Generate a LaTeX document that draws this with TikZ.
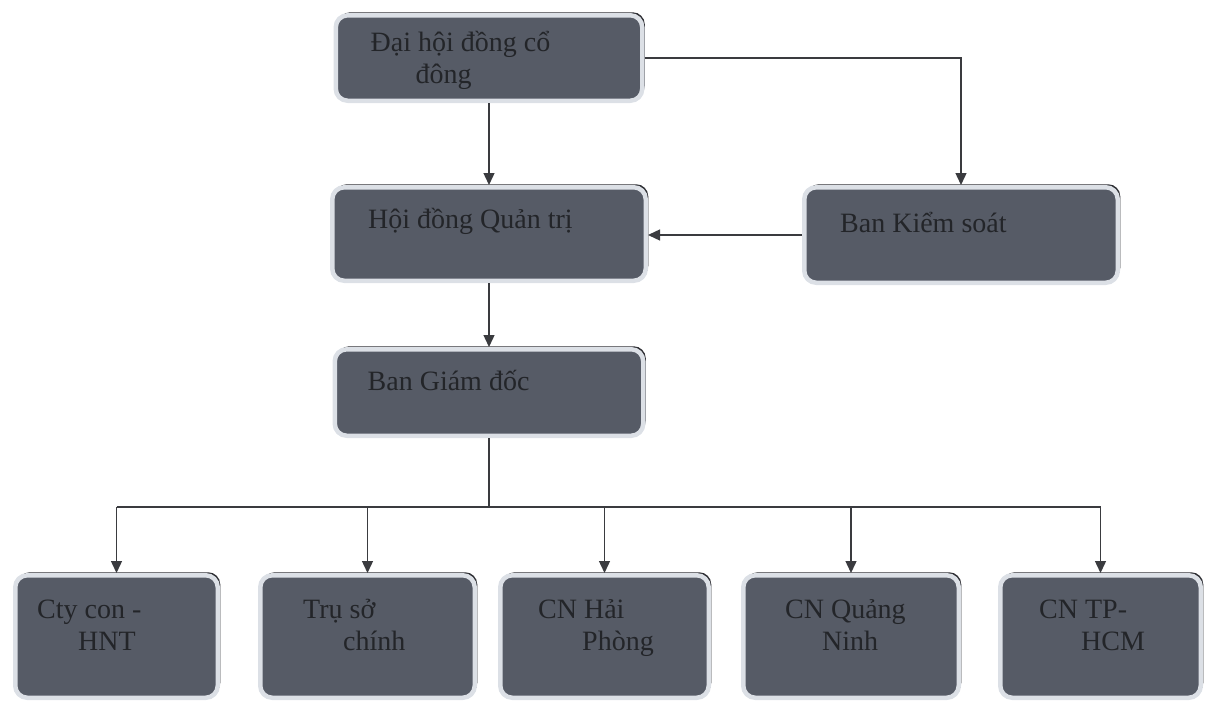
\documentclass[tikz,border=0pt]{standalone}
\usepackage{fontspec}
\setmainfont{Liberation Serif}
\usetikzlibrary{arrows.meta,calc,shadows}

\definecolor{boxfill}{HTML}{565B66}
\definecolor{boxrim}{HTML}{DCE0E6}
\definecolor{shadowgray}{HTML}{2F3035}
\definecolor{inkgray}{HTML}{232529}
\definecolor{linkgray}{HTML}{3A3B3F}

\tikzset{
  box/.style={draw=boxrim, line width=4.5pt, fill=boxfill, rounded corners=12pt, inner sep=0pt,
    drop shadow={shadow xshift=2.5pt, shadow yshift=3pt, fill=shadowgray, opacity=1}},
  lbl/.style={text=inkgray, font=\fontsize{28}{32}\selectfont, align=left, inner sep=0pt, anchor=base west},
  wire/.style={draw=linkgray, line width=1.4pt},
  link/.style={wire, -{Triangle[length=12pt,width=11pt]}}
}

\begin{document}
\begin{tikzpicture}[x=1pt,y=1pt,yscale=-1]
            \useasboundingbox (0,0) rectangle (1205,704);

            % Boxes
            \node[box, minimum width=306.5pt, minimum height=85.5pt] (dhcd) at (489,58) {};
            \node[box, minimum width=313.5pt, minimum height=93.5pt] (hdqt) at (489,234) {};
            \node[box, minimum width=313.5pt, minimum height=95.5pt] (bks) at (961,235) {};
            \node[box, minimum width=308.5pt, minimum height=86.5pt] (bgd) at (489,392.5) {};
            \foreach \name/\cx/\w in {cty/116.5/202.5, truso/367.5/214.5, hp/604.5/208.5, qn/851/215.5, hcm/1100.5/200.5}
              \node[box, minimum width=\w pt, minimum height=122.5pt] (\name) at (\cx,636.5) {};

            % Labels (two-line ones sit on their last baseline)
            \node[lbl] (dhcdTxt) at ($(dhcd.north west)+(37,70)$) {Đại hội đồng cổ\\\hspace*{45pt}đông};
            \node[lbl] (hdqtTxt) at ($(hdqt.north west)+(38,43)$) {Hội đồng Quản trị};
            \node[lbl] (bksTxt) at ($(bks.north west)+(38,47)$) {Ban Kiểm soát};
            \node[lbl] (bgdTxt) at ($(bgd.north west)+(35,43)$) {Ban Giám đốc};
            \node[lbl] (ctyTxt) at ($(cty.north west)+(24,77)$) {Cty con -\\\hspace*{41pt}HNT};
            \node[lbl] (trusoTxt) at ($(truso.north west)+(45,77)$) {Trụ sở\\\hspace*{40pt}chính};
            \node[lbl] (hpTxt) at ($(hp.north west)+(40,77)$) {CN Hải\\\hspace*{44pt}Phòng};
            \node[lbl] (qnTxt) at ($(qn.north west)+(44,77)$) {CN Quảng\\\hspace*{37pt}Ninh};
            \node[lbl] (hcmTxt) at ($(hcm.north west)+(41,77)$) {CN TP-\\\hspace*{42pt}HCM};

            % Connectors
            \draw[link] (dhcd.south) -- (hdqt.north);
            \draw[link] (dhcd.east) -| (bks.north);
            \draw[link] (bks.west) -- (bks.west -| hdqt.east);
            \draw[link] (hdqt.south) -- (bgd.north);

            % Bus
            \coordinate (bus) at (489,507);
            \draw[wire] (bgd.south) -- (bus);
            \draw[wire] (cty.north |- bus) -- (hcm.north |- bus);
            \foreach \name in {cty,truso,hp,qn,hcm}
              \draw[link] (\name.north |- bus) -- (\name.north);

\end{tikzpicture}
\end{document}
